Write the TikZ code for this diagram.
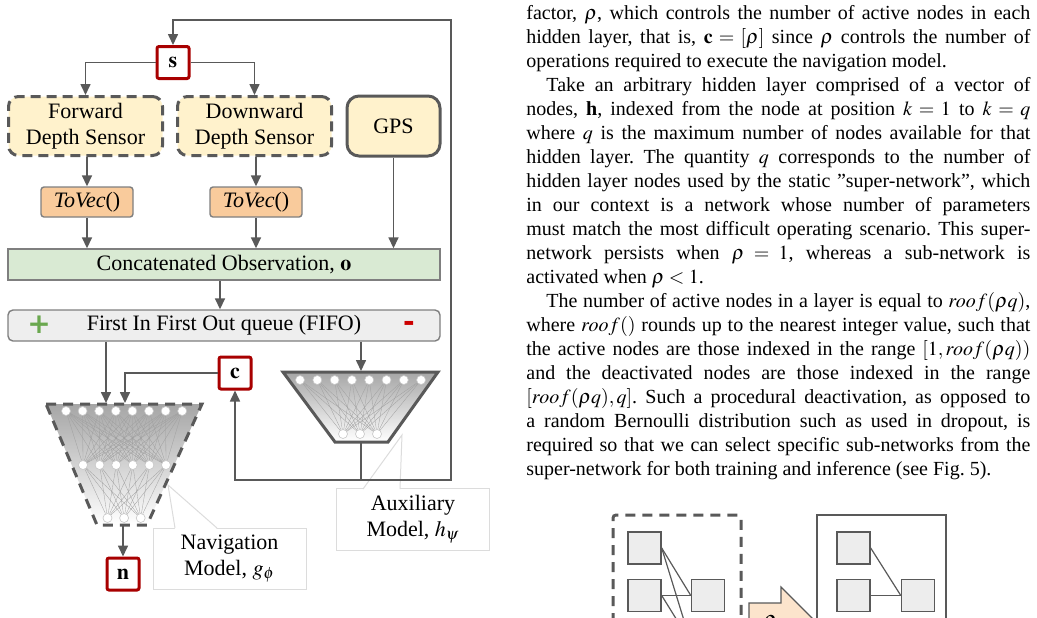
\documentclass[tikz,border=0pt]{standalone}
\usepackage{mathptmx}
\usepackage{fontspec}
\setmainfont{Liberation Serif}
\newfontfamily\signfont{DejaVu Sans}
\usetikzlibrary{arrows.meta}

\definecolor{linegray}{HTML}{595959}
\definecolor{boxgray}{HTML}{7F7F7F}
\definecolor{sensfill}{HTML}{FFF2CC}
\definecolor{vecfill}{HTML}{F9CB9C}
\definecolor{obsfill}{HTML}{D9EAD3}
\definecolor{fifofill}{HTML}{EEEEEE}
\definecolor{varred}{HTML}{A80000}
\definecolor{plusgreen}{HTML}{6AA84F}
\definecolor{minusred}{HTML}{CC0000}
\definecolor{calloutgray}{HTML}{DCDCDC}
\definecolor{blockfill}{HTML}{FCE4CC}

\newcommand{\diagfont}{\fontsize{11}{13}\selectfont}
\newcommand{\colfont}{\fontsize{10}{12}\selectfont}

\tikzset{
    conn/.style={draw=linegray, line width=0.8pt, -{Triangle[length=5.5pt,width=5pt]}},
    sensor/.style={draw=linegray, line width=1.5pt, dash pattern=on 5pt off 3pt,
        rounded corners=5pt, fill=sensfill, minimum width=77pt, minimum height=29.5pt,
        align=center, font=\diagfont, inner sep=1pt},
    gpsbox/.style={draw=linegray, line width=1.5pt, rounded corners=6pt, fill=sensfill,
        minimum width=46.5pt, minimum height=30pt, font=\diagfont},
    vecbox/.style={draw=boxgray, line width=0.7pt, rounded corners=1.5pt, fill=vecfill,
        minimum width=46pt, minimum height=15pt, inner sep=0pt, font=\diagfont},
    obsbox/.style={draw=boxgray, line width=0.7pt, fill=obsfill,
        minimum width=216pt, minimum height=15.5pt, inner sep=0pt, font=\diagfont},
    fifobox/.style={draw=boxgray, line width=0.7pt, rounded corners=2.5pt, fill=fifofill,
        minimum width=216pt, minimum height=15.5pt, inner sep=0pt, font=\diagfont},
    varbox/.style={draw=varred, line width=1.5pt, fill=white, rounded corners=1pt,
        minimum size=16pt, inner sep=0pt, font=\diagfont},
    signmark/.style={inner sep=0pt, font=\signfont\bfseries\fontsize{14}{14}\selectfont},
    neuron/.style={circle, draw=gray!45, fill=white, line width=0.3pt,
        minimum size=4.5pt, inner sep=0pt},
    netedge/.style={draw=gray!75, line width=0.15pt},
    calloutbox/.style={draw=calloutgray, line width=0.5pt, fill=white,
        minimum width=76.5pt, minimum height=30.5pt, align=center, font=\diagfont},
    calloutline/.style={draw=calloutgray, line width=0.5pt},
    unitsq/.style={draw=gray!70!black, line width=0.7pt, fill=gray!14,
        minimum width=16.5pt, minimum height=16pt, inner sep=0pt},
    unitlink/.style={draw=gray!70!black, line width=0.6pt},
    txtline/.style={anchor=base west, inner sep=0pt, font=\colfont\frenchspacing},
}

\begin{document}
\begin{tikzpicture}[x=0.5pt,y=-0.5pt]
    \useasboundingbox (0,0) rectangle (1037,617);
    \clip (0,0) rectangle (1037,617);

    % callouts (under everything else)
    \node[calloutbox] (navlbl) at (229.5,558.5) {Navigation\\Model, $g_{\phi}$};
    \fill[white] (175,529) -- (168,485) -- (217,529) -- cycle;
    \draw[calloutline] (175,528) -- (168,485) -- (217,528);
    \node[calloutbox] (auxlbl) at (413,519.5) {Auxiliary\\Model, $h_{\psi}$};
    \fill[white] (363,490) -- (402,435) -- (400,490) -- cycle;
    \draw[calloutline] (363,489) -- (402,435) -- (400,489);

    % sensors and observation
    \node[varbox] (s) at (173,62.5) {$\mathbf{s}$};
    \node[sensor] (fwd) at (85.5,126) {Forward\\Depth Sensor};
    \node[sensor] (dwn) at (254.5,126) {Downward\\Depth Sensor};
    \node[gpsbox] (gps) at (393.5,126) {GPS};
    \node[vecbox] (vecf) at (87,202) {\textit{ToVec}()};
    \node[vecbox] (vecd) at (256,202) {\textit{ToVec}()};
    \node[obsbox] (obs) at (224,264.5) {Concatenated Observation, $\mathbf{o}$};
    \node[fifobox] (fifo) at (224,325.5) {First In First Out queue (FIFO)};
    \node[signmark, text=plusgreen] (plus) at (39,325) {+};
    \node[signmark, text=minusred] (minus) at (409,326) {-};
    \node[varbox] (c) at (235,373) {$\mathbf{c}$};
    \node[varbox] (n) at (123,574) {$\mathbf{n}$};

    % navigation model
    \shade[top color=gray!70, bottom color=white] (46,404) -- (202,404) -- (147,525) -- (97,525) -- cycle;
    \draw[draw=linegray, line width=1.5pt, dash pattern=on 5pt off 3.5pt]
        (46,404) -- (202,404) -- (147,525) -- (97,525) -- cycle;
    \foreach \i in {1,...,8}
        \node[neuron] (nt\i) at ({66+16.6*(\i-1)},411) {};
    \foreach \i in {1,...,6}
        \node[neuron] (nm\i) at ({83+16.6*(\i-1)},465) {};
    \foreach \i in {1,...,3}
        \node[neuron] (nb\i) at ({107.5+16.6*(\i-1)},518) {};
    \foreach \i in {1,...,8}
        \foreach \j in {1,...,6}
            \draw[netedge] (nt\i) -- (nm\j);
    \foreach \i in {1,...,6}
        \foreach \j in {1,...,3}
            \draw[netedge] (nm\i) -- (nb\j);

    % auxiliary model
    \shade[top color=gray!70, bottom color=white] (283,372) -- (438,372) -- (388,442) -- (335,442) -- cycle;
    \draw[draw=linegray, line width=1.5pt] (283,372) -- (438,372) -- (388,442) -- (335,442) -- cycle;
    \foreach \i in {1,...,8}
        \node[neuron] (at\i) at ({300+17.3*(\i-1)},380) {};
    \foreach \i in {1,...,3}
        \node[neuron] (ab\i) at ({343+17*(\i-1)},434) {};
    \foreach \i in {1,...,8}
        \foreach \j in {1,...,3}
            \draw[netedge] (at\i) -- (ab\j);

    \coordinate (navin1) at (106,403);
    \coordinate (navin2) at (125,403);
    \coordinate (navout) at (123,525);
    \coordinate (auxin) at (361,371);
    \coordinate (auxout) at (361,442);
    \coordinate (lpbr) at (451,480);
    \coordinate (lptr) at (451,20);

    % connectors
    \draw[conn] (s.west) -| (fwd.north);
    \draw[conn] (s.east) -| (dwn.north);
    \draw[conn] (fwd.south -| vecf.north) -- (vecf.north);
    \draw[conn] (dwn.south -| vecd.north) -- (vecd.north);
    \draw[conn] (vecf.south) -- (vecf.south |- obs.north);
    \draw[conn] (vecd.south) -- (vecd.south |- obs.north);
    \draw[conn] (gps.south) -- (gps.south |- obs.north);
    \draw[conn] ([xshift=-2pt]obs.south) -- ([xshift=-2pt]fifo.north);
    \draw[conn] (fifo.south -| navin1) -- (navin1);
    \draw[conn] (fifo.south -| auxin) -- (auxin);
    \draw[conn] (c.west) -| (navin2);
    \draw[conn] (navout) -- (n.north);
    \draw[conn] (auxout) |- (lpbr) -- (lptr) -| (s.north);
    \draw[conn] (auxout |- lpbr) -| (c.south);

    % right column text
    \node[txtline] (t1) at (526,19) {\makebox[252pt][s]{factor, $\rho$, which controls the number of active nodes in each}};
    \node[txtline] (t2) at (526,43) {\makebox[252pt][s]{hidden layer, that is, $\mathbf{c} = [\rho]$ since $\rho$ controls the number of}};
    \node[txtline] (t3) at (526,67) {operations required to execute the navigation model.};
    \node[txtline] (t4) at (546,91) {\makebox[242pt][s]{Take an arbitrary hidden layer comprised of a vector of}};
    \node[txtline] (t5) at (526,115) {\makebox[252pt][s]{nodes, \textbf{h}, indexed from the node at position $k = 1$ to $k = q$}};
    \node[txtline] (t6) at (526,139) {\makebox[252pt][s]{where $q$ is the maximum number of nodes available for that}};
    \node[txtline] (t7) at (526,163) {\makebox[252pt][s]{hidden layer. The quantity $q$ corresponds to the number of}};
    \node[txtline] (t8) at (526,187) {\makebox[252pt][s]{hidden layer nodes used by the static ''super-network'', which}};
    \node[txtline] (t9) at (526,211) {\makebox[252pt][s]{in our context is a network whose number of parameters}};
    \node[txtline] (t10) at (526,235) {\makebox[252pt][s]{must match the most difficult operating scenario. This super-}};
    \node[txtline] (t11) at (526,259) {\makebox[252pt][s]{network persists when $\rho = 1$, whereas a sub-network is}};
    \node[txtline] (t12) at (526,283) {activated when $\rho < 1$.};
    \node[txtline] (t13) at (546,307) {\makebox[242pt][s]{The number of active nodes in a layer is equal to $roof(\rho q)$,}};
    \node[txtline] (t14) at (526,331) {\makebox[252pt][s]{where $roof()$ rounds up to the nearest integer value, such that}};
    \node[txtline] (t15) at (526,355) {\makebox[252pt][s]{the active nodes are those indexed in the range $\mathbf{[}1, roof(\rho q)\mathbf{)}$}};
    \node[txtline] (t16) at (526,379) {\makebox[252pt][s]{and the deactivated nodes are those indexed in the range}};
    \node[txtline] (t17) at (526,403) {\makebox[252pt][s]{$[roof(\rho q), q]$. Such a procedural deactivation, as opposed to}};
    \node[txtline] (t18) at (526,427) {\makebox[252pt][s]{a random Bernoulli distribution such as used in dropout, is}};
    \node[txtline] (t19) at (526,451) {\makebox[252pt][s]{required so that we can select specific sub-networks from the}};
    \node[txtline] (t20) at (526,475) {super-network for both training and inference (see Fig.~5).};

    % next figure, cut at the page edge
    \draw[draw=linegray, line width=1.5pt, dash pattern=on 5pt off 3.5pt, rounded corners=1.5pt]
        (613,640) -- (613,515) -- (741,515) -- (741,640);
    \node[unitsq] (ua) at (644.5,548) {};
    \node[unitsq] (ub) at (644.5,595.5) {};
    \node[unitsq] (uc) at (708,595.5) {};
    \node[unitsq] (ud) at (644.5,642.5) {};
    \node[unitsq] (ue) at (708,642.5) {};
    \draw[unitlink] (ua.east) -- (uc.west);
    \draw[unitlink] (ua.east) -- (ue.west);
    \draw[unitlink] (ub.east) -- (uc.west);
    \draw[unitlink] (ub.east) -- (ue.west);

    \draw[draw=gray!70!black, line width=0.6pt, fill=blockfill]
        (749,637) -- (749,603) -- (781,603) -- (781,587) -- (814,620) -- (781,653) -- (781,637) -- cycle;
    \node[font=\diagfont, inner sep=0pt] (rholbl) at (770,624) {$\rho$};

    \draw[draw=gray!70!black, line width=0.7pt] (817,640) -- (817,515) -- (946,515) -- (946,640);
    \node[unitsq] (ra) at (853.5,548) {};
    \node[unitsq] (rb) at (853.5,595.5) {};
    \node[unitsq] (rc) at (918,595.5) {};
    \draw[unitlink] (ra.east) -- (rc.west);
    \draw[unitlink] (rb.east) -- (rc.west);
\end{tikzpicture}
\end{document}
